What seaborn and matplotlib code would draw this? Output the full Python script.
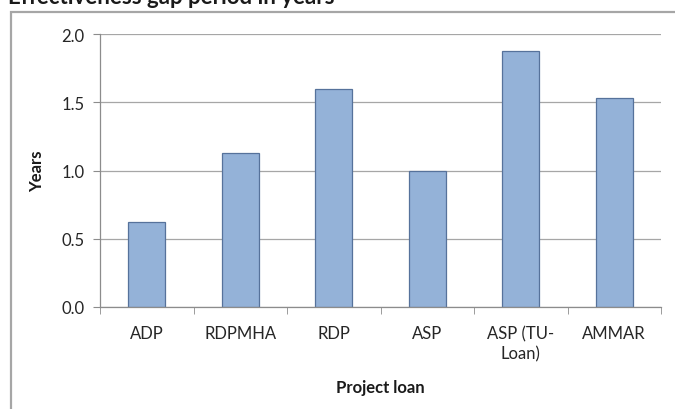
import numpy as np
import pandas as pd
import matplotlib
matplotlib.use("Agg")
import matplotlib.pyplot as plt
from matplotlib.patches import Rectangle
from matplotlib.ticker import FixedLocator
import seaborn as sns

# data
loans = ["ADP", "RDPMHA", "RDP", "ASP", "ASP (TU-\nLoan)", "AMMAR"]
years = [0.625, 1.125, 1.60, 1.00, 1.875, 1.53]
yticks = [0.0, 0.5, 1.0, 1.5, 2.0]

df = pd.DataFrame({"loan": loans, "years": years})

sns.set_style("white")
plt.rcParams["font.family"] = ["Lato", "DejaVu Sans"]

fig = plt.figure(figsize=(6.75, 4.1), dpi=100)
ax = fig.add_axes([100 / 675, 1 - 308 / 410, 561 / 675, 273 / 410])

sns.barplot(data=df, x="loan", y="years", ax=ax, width=0.4,
            color="#94b2d8", edgecolor="#56729b", linewidth=0.9, saturation=1)

ax.set_ylim(0, 2.0)
ax.set_xlim(-0.5, len(loans) - 0.5)
ax.set_yticks(yticks)
ax.set_yticklabels([f"{v:.1f}" for v in yticks])
ax.yaxis.grid(True, color="#a6a6a6", lw=0.9)
ax.set_axisbelow(True)

# excel style ticks between categories
ax.xaxis.set_minor_locator(FixedLocator(np.arange(-0.5, len(loans), 1.0)))
ax.tick_params(axis="x", which="major", length=0, pad=13, labelsize=12, labelcolor="#262626")
ax.tick_params(axis="x", which="minor", length=5, color="#8c8c8c", direction="out", bottom=True)
ax.tick_params(axis="y", length=5, color="#8c8c8c", direction="out", left=True,
               labelsize=12, labelcolor="#262626", pad=6)
for t in ax.get_xticklabels():
    t.set_linespacing(1.35)

for s in ["top", "right"]:
    ax.spines[s].set_visible(False)
for s in ["left", "bottom"]:
    ax.spines[s].set_color("#8c8c8c")
    ax.spines[s].set_linewidth(0.9)

ax.set_xlabel("Project loan", fontsize=12, fontweight="bold", color="#1a1a1a", labelpad=12)
ax.set_ylabel("Years", fontsize=12, fontweight="bold", color="#1a1a1a", labelpad=12)

# chart frame (cut by the image edge)
fig.add_artist(Rectangle((11 / 675, -0.1), 1.2, 1.1 - 13 / 410, transform=fig.transFigure,
                         fill=False, edgecolor="#a6a6a6", lw=1.6, clip_on=False))

# title, mostly cropped off the top
fig.text(335 / 675, 1.0 - 3.5 / 410, "Effectiveness gap period in years", ha="right", va="baseline",
         fontsize=16, fontweight="bold", color="#1a1a1a")

fig.savefig("out.png", dpi=100)
